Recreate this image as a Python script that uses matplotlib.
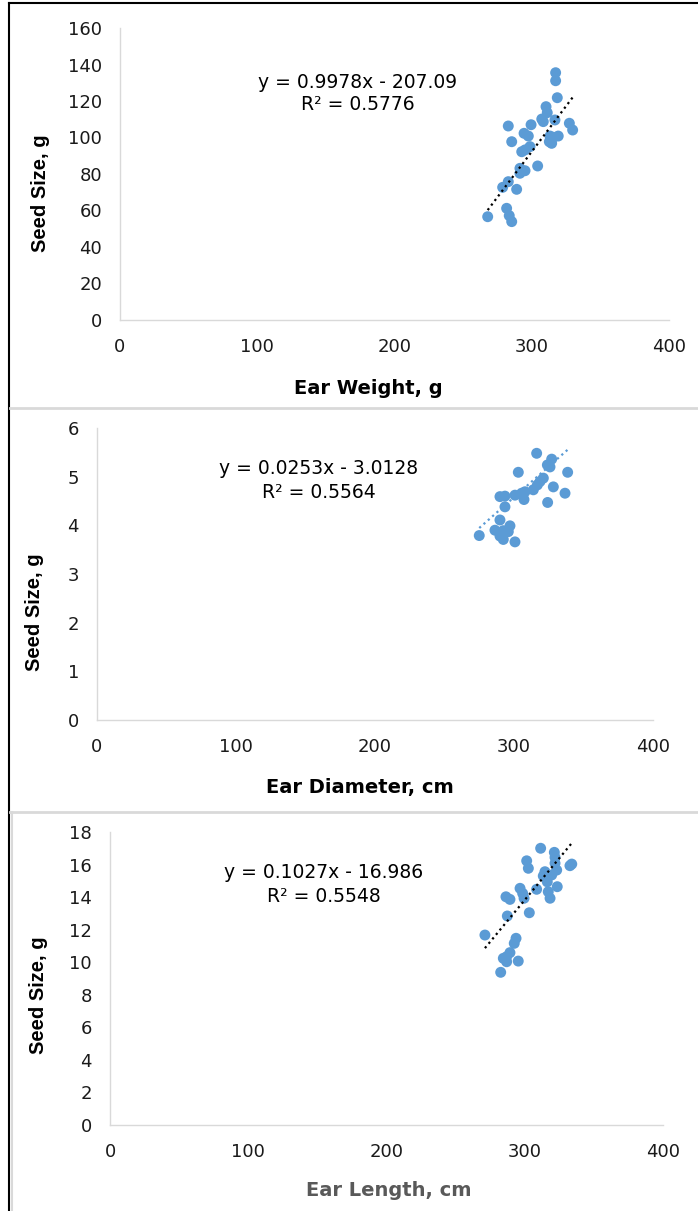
import matplotlib
matplotlib.use("Agg")
import matplotlib.pyplot as plt
from matplotlib.lines import Line2D

plt.rcParams['font.family'] = ['DejaVu Sans']

# ---------------- data ----------------
ear_weight = [317.4, 317.4, 318.6, 310.4, 311.3, 307.3, 308.4, 316.9, 327.4, 329.8,
              282.9, 299.5, 294.4, 297.5, 285.4, 313.3, 315.7, 319.3, 312.8, 314.5,
              298.7, 295.1, 292.7, 304.3, 291.4, 295.1, 291.4, 282.9, 278.8, 289.0,
              281.7, 283.6, 285.4, 267.9]
seed_size_w = [135.5, 131.1, 121.8, 116.9, 113.6, 110.1, 108.7, 109.6, 107.8, 104.1,
               106.3, 107.0, 102.3, 100.8, 97.7, 100.8, 100.1, 100.8, 97.7, 96.8,
               95.0, 93.2, 92.2, 84.4, 83.1, 81.8, 80.4, 75.8, 72.7, 71.6,
               61.2, 57.2, 53.9, 56.6]

ear_diameter = [316.3, 327.1, 324.0, 325.9, 338.6, 303.1, 321.1, 318.7, 316.8, 328.3,
                313.9, 307.9, 305.5, 336.7, 300.7, 293.5, 289.9, 307.2, 324.2, 293.5,
                289.9, 297.1, 286.3, 292.3, 295.9, 289.9, 292.3, 275.0, 300.7]
seed_size_d = [5.48, 5.36, 5.24, 5.20, 5.09, 5.09, 4.97, 4.90, 4.83, 4.79,
               4.73, 4.69, 4.66, 4.66, 4.62, 4.60, 4.59, 4.53, 4.47, 4.38,
               4.11, 3.99, 3.90, 3.89, 3.87, 3.78, 3.71, 3.79, 3.66]

ear_length = [311.5, 321.4, 321.9, 301.4, 302.6, 321.9, 332.7, 334.0, 323.1, 314.6,
              313.4, 319.5, 316.3, 323.5, 308.6, 296.6, 298.5, 299.5, 317.0, 318.3,
              286.4, 289.3, 303.3, 287.4, 271.2, 293.7, 292.4, 289.3, 286.9, 284.5,
              295.3, 286.9, 282.6]
seed_size_l = [17.0, 16.75, 16.44, 16.23, 15.77, 16.08, 15.93, 16.03, 15.66, 15.56,
               15.30, 15.36, 14.94, 14.64, 14.48, 14.54, 14.23, 13.93, 14.33, 13.93,
               14.02, 13.86, 13.04, 12.84, 11.67, 11.47, 11.16, 10.59, 10.34, 10.24,
               10.07, 10.03, 9.38]

slopes = [0.9978, 0.0253, 0.1027]
intercepts = [-207.09, -3.0128, -16.986]
equations = ["y = 0.9978x - 207.09", "y = 0.0253x - 3.0128", "y = 0.1027x - 16.986"]
r2_labels = ["R² = 0.5776", "R² = 0.5564", "R² = 0.5548"]
x_labels = ["Ear Weight, g", "Ear Diameter, cm", "Ear Length, cm"]
y_label = "Seed Size, g"
x_ticks = [0, 100, 200, 300, 400]
y_ticks = [list(range(0, 161, 20)), list(range(0, 7, 1)), list(range(0, 19, 2))]

# ---------------- layout ----------------
W, H = 698, 1211
fig = plt.figure(figsize=(W / 100, H / 100), dpi=100)

def fx(px):
    return px / W

def fy(py):
    return 1 - py / H

# axes boxes in pixels: (left, right, top, bottom)
boxes = [(120, 669, 28, 320), (97, 653, 428, 720), (110, 663, 832, 1125)]
eq_pos = [(358, 82, 105), (319, 469, 492), (324, 873, 896)]
ylab_pos = [(40, 193), (35, 612), (38, 995)]
xlab_pos = [(368, 388), (360, 787), (389, 1190)]
xlab_colors = ['#000000', '#000000', '#595959']
trend_colors = ['#000000', '#5B9BD5', '#000000']
xs_all = [ear_weight, ear_diameter, ear_length]
ys_all = [seed_size_w, seed_size_d, seed_size_l]

marker_color = '#5B9BD5'
tick_color = '#1a1a1a'

for i in range(3):
    l, r, t, b = boxes[i]
    ax = fig.add_axes([fx(l), fy(b), fx(r - l), (b - t) / H])
    xs, ys = xs_all[i], ys_all[i]
    ax.scatter(xs, ys, s=62, color=marker_color, edgecolors='none', zorder=3)
    x0, x1 = min(xs), max(xs)
    ax.plot([x0, x1], [slopes[i] * x0 + intercepts[i], slopes[i] * x1 + intercepts[i]],
            linestyle=(0, (1, 1.6)), color=trend_colors[i], lw=1.6, zorder=4)
    ax.set_xlim(0, 400)
    ax.set_ylim(y_ticks[i][0], y_ticks[i][-1])
    ax.set_xticks(x_ticks)
    ax.set_yticks(y_ticks[i])
    ax.tick_params(length=0, labelsize=13, colors=tick_color)
    ax.tick_params(axis='x', pad=13)
    ax.tick_params(axis='y', pad=13)
    for s in ['top', 'right']:
        ax.spines[s].set_visible(False)
    ax.spines['left'].set_color('#D9D9D9')
    ax.spines['bottom'].set_color('#D9D9D9')
    ax.spines['left'].set_linewidth(1.0)
    ax.spines['bottom'].set_linewidth(1.0)
    ax.patch.set_alpha(0)

    ex, ey1, ey2 = eq_pos[i]
    fig.text(fx(ex), fy(ey1), equations[i], ha='center', va='center', fontsize=13.5, color='#000000')
    fig.text(fx(ex), fy(ey2), r2_labels[i], ha='center', va='center', fontsize=13.5, color='#000000')
    yx, yy = ylab_pos[i]
    fig.text(fx(yx), fy(yy), y_label, rotation=90, ha='center', va='center',
             fontsize=14.5, fontweight='bold', color='#000000', family='Liberation Sans')
    lx, ly = xlab_pos[i]
    fig.text(fx(lx), fy(ly), x_labels[i], ha='center', va='center',
             fontsize=14, fontweight='bold', color=xlab_colors[i])

# frame lines
fig.add_artist(Line2D([fx(9), fx(9)], [0, fy(3)], color='#000000', lw=1.5))
fig.add_artist(Line2D([fx(9), 1], [fy(3), fy(3)], color='#000000', lw=1.5))
fig.add_artist(Line2D([fx(10), 1], [fy(408), fy(408)], color='#D9D9D9', lw=2))
fig.add_artist(Line2D([fx(10), 1], [fy(812), fy(812)], color='#D9D9D9', lw=2))
fig.add_artist(Line2D([fx(12), fx(12)], [0, fy(812)], color='#D9D9D9', lw=1.5))

fig.savefig("out.png", dpi=100)
